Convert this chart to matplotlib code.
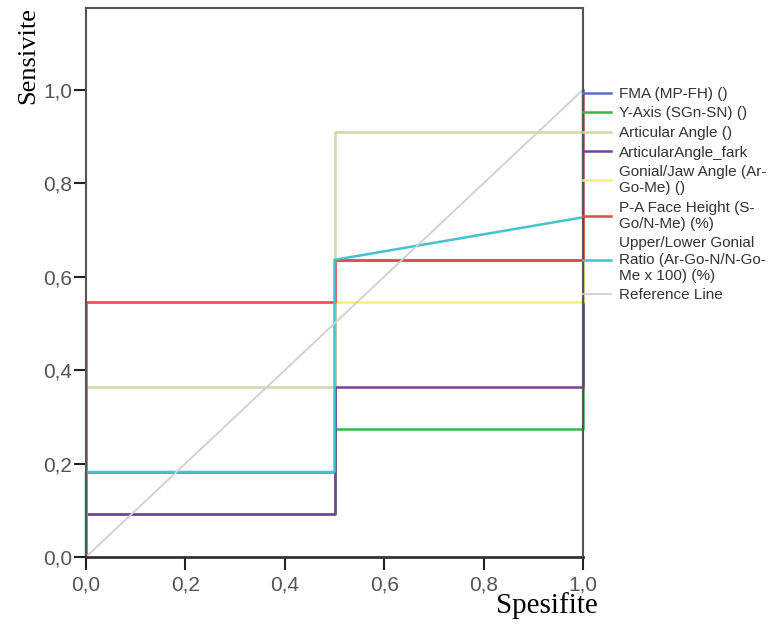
import matplotlib
matplotlib.use('Agg')
import matplotlib.pyplot as plt
from matplotlib.ticker import FuncFormatter

# ROC curve points (1 - specificity, sensitivity)
fma_x = [0.0, 0.0, 0.5, 0.5, 1.0, 1.0]
fma_y = [0.0, 0.182, 0.182, 0.636, 0.636, 1.0]
yaxis_x = [0.0, 0.0, 0.5, 0.5, 1.0, 1.0]
yaxis_y = [0.0, 0.091, 0.091, 0.273, 0.273, 1.0]
art_x = [0.0, 0.0, 0.5, 0.5, 1.0, 1.0]
art_y = [0.0, 0.364, 0.364, 0.909, 0.909, 1.0]
artfark_x = [0.0, 0.0, 0.5, 0.5, 1.0, 1.0]
artfark_y = [0.0, 0.091, 0.091, 0.364, 0.364, 1.0]
gonial_x = [0.0, 0.0, 0.5, 1.0, 1.0]
gonial_y = [0.0, 0.545, 0.545, 0.545, 1.0]
pa_x = [0.0, 0.0, 0.5, 0.5, 1.0, 1.0]
pa_y = [0.0, 0.545, 0.545, 0.636, 0.636, 1.0]
ratio_x = [0.0, 0.0, 0.5, 0.5, 1.0, 1.0]
ratio_y = [0.0, 0.182, 0.182, 0.636, 0.727, 1.0]
ref_x = [0.0, 1.0]
ref_y = [0.0, 1.0]

labels = ['FMA (MP-FH) ()', 'Y-Axis (SGn-SN) ()', 'Articular Angle ()',
          'ArticularAngle_fark', 'Gonial/Jaw Angle (Ar-\nGo-Me) ()',
          'P-A Face Height (S-\nGo/N-Me) (%)',
          'Upper/Lower Gonial\nRatio (Ar-Go-N/N-Go-\nMe x 100) (%)',
          'Reference Line']
colors = ['#5a6fc4', '#3cb54a', '#d9d3a8', '#7a3f98', '#f4f07a',
          '#e9484b', '#45c2cb', '#cfcfcf']

fig = plt.figure(figsize=(7.79, 6.28), dpi=100)
ax = fig.add_axes([86/779, 71/628, 497/779, 549/628])

series = [(fma_x, fma_y), (yaxis_x, yaxis_y), (art_x, art_y),
          (artfark_x, artfark_y), (gonial_x, gonial_y), (pa_x, pa_y),
          (ratio_x, ratio_y), (ref_x, ref_y)]
for i, (xs, ys) in enumerate(series):
    lw = 1.3 if i == 7 else 1.8
    ax.plot(xs, ys, color=colors[i], lw=lw, label=labels[i], clip_on=False,
            zorder=1.5)

ax.set_xlim(0, 1)
ax.set_ylim(0, 1.175)
ax.set_xticks([0, 0.2, 0.4, 0.6, 0.8, 1.0])
ax.set_yticks([0, 0.2, 0.4, 0.6, 0.8, 1.0])
fmt = FuncFormatter(lambda v, p: ('%.1f' % v).replace('.', ','))
ax.xaxis.set_major_formatter(fmt)
ax.yaxis.set_major_formatter(fmt)
ax.tick_params(direction='out', length=9, width=1.5, colors='#222222',
               labelcolor='#555555', labelsize=15)
ax.tick_params(axis='x', pad=4)
ax.tick_params(axis='y', pad=1)
for lab in ax.get_xticklabels() + ax.get_yticklabels():
    lab.set_family('Liberation Sans')
for s in ax.spines.values():
    s.set_color('#555555')
    s.set_linewidth(1.5)
ax.spines['bottom'].set_color('#333333')
ax.spines['bottom'].set_linewidth(2.0)
ax.spines['bottom'].set_zorder(3)

fig.text(28/779, 1 - 55/628, 'Sensivite', rotation=90, ha='center',
         va='center', family='Liberation Serif', fontsize=19)
fig.text(598/779, 1 - 606/628, 'Spesifite', ha='right', va='center',
         family='Liberation Serif', fontsize=21)

leg = ax.legend(loc='upper left', bbox_to_anchor=(583/779, 1 - 87/628),
                bbox_transform=fig.transFigure, frameon=False, borderpad=0,
                borderaxespad=0, handlelength=1.85, handletextpad=0.5,
                labelspacing=0.36, prop={'family': 'Liberation Sans', 'size': 11})
for t in leg.get_texts():
    t.set_color('#333333')

fig.savefig('out.png', dpi=100)
